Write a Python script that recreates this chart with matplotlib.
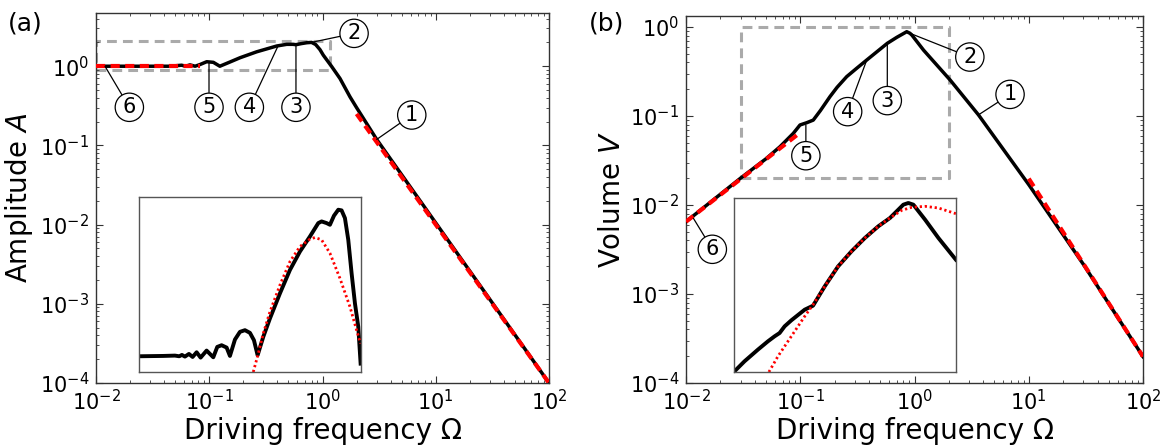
import matplotlib
matplotlib.use("Agg")
import matplotlib.pyplot as plt

plt.rcParams['font.family'] = ['DejaVu Sans']
plt.rcParams['mathtext.fontset'] = 'dejavusans'
plt.rcParams['axes.unicode_minus'] = False

# ---------------- panel (a): amplitude ----------------
omega_a = [0.01, 0.045, 0.057, 0.062, 0.0676, 0.075, 0.0828, 0.095, 0.1087, 0.124,
           0.15, 0.187, 0.262, 0.394, 0.483, 0.55, 0.583, 0.65, 0.726, 0.80, 0.87,
           0.95, 1.016, 1.2, 1.427, 1.75, 2.0, 3.01, 10.0, 100.0]
amp_a = [1.0, 1.0, 1.03, 1.0, 1.04, 1.0, 1.05, 1.14, 1.12, 1.0,
         1.12, 1.28, 1.52, 1.80, 1.89, 1.89, 1.87, 1.93, 1.98, 2.0, 1.88,
         1.62, 1.38, 1.0, 0.70, 0.41, 0.30, 0.119, 0.0105, 1.0e-4]
low_a_omega = [0.01, 0.083]
low_a_amp = [1.0, 1.0]
high_a_omega = [2.0, 100.0]
high_a_amp = [0.25, 1.0e-4]
box_a_omega = [0.01, 1.16]
box_a_amp = [0.9, 2.1]

# inset (a), normalised vertical scale
ins_a_omega = [0.02397, 0.03932, 0.04983, 0.05442, 0.05745, 0.06106, 0.06625, 0.07138,
               0.07745, 0.08397, 0.09488, 0.10867, 0.11785, 0.12872, 0.14252, 0.15249,
               0.16883, 0.18687, 0.20686, 0.22899, 0.24840, 0.26765, 0.30020, 0.34384,
               0.42142, 0.51644, 0.63283, 0.77546, 0.91884, 0.98320, 1.08847, 1.16474,
               1.26353, 1.37995, 1.47631, 1.57977, 1.69062, 1.80912, 1.93644, 2.07235, 2.17300]
ins_a_full = [0.0899, 0.0918, 0.0937, 0.0899, 0.0975, 0.0880, 0.1033, 0.0860,
              0.1128, 0.0822, 0.1224, 0.0841, 0.1434, 0.1530, 0.1396, 0.0918,
              0.1855, 0.2294, 0.2390, 0.2237, 0.1816, 0.0956, 0.2008, 0.3059,
              0.4493, 0.5832, 0.6883, 0.7744, 0.8509, 0.8604, 0.8509, 0.8413,
              0.8929, 0.9273, 0.9235, 0.8795, 0.7553, 0.5641, 0.3920, 0.2581, 0.0478]
ins_a_model_omega = [0.24503, 0.27131, 0.30020, 0.34384, 0.42142, 0.51644, 0.63283,
                     0.77546, 0.85857, 0.98320, 1.16474, 1.42707, 1.74955, 2.00316, 2.17300]
ins_a_model = [0.0, 0.1052, 0.2199, 0.3442, 0.4971, 0.6310, 0.7170,
               0.7591, 0.7686, 0.7553, 0.6788, 0.5354, 0.3728, 0.2390, 0.1625]

labels_a = ["1", "2", "3", "4", "5", "6"]
point_a = [(3.01, 0.119), (0.80, 2.0), (0.583, 1.87), (0.407, 1.83), (0.0995, 1.12), (0.012, 1.0)]
circle_a = [(6.14, 0.242), (1.90, 2.6), (0.583, 0.303), (0.226, 0.303), (0.0995, 0.303), (0.0197, 0.303)]

# ---------------- panel (b): volume ----------------
omega_b = [0.01, 0.03, 0.05, 0.0665, 0.0869, 0.0995, 0.114, 0.130, 0.15, 0.182, 0.21,
           0.255, 0.312, 0.382, 0.578, 0.70, 0.855, 0.913, 0.95, 1.2, 2.05, 3.63,
           10.05, 30.1, 100.0]
vol_b = [0.0065, 0.020, 0.033, 0.0452, 0.0638, 0.0793, 0.0841, 0.090, 0.115, 0.165, 0.21,
         0.277, 0.344, 0.426, 0.656, 0.766, 0.886, 0.85, 0.81, 0.55, 0.254, 0.103,
         0.0168, 0.00215, 1.98e-4]
low_b_omega = [0.01, 0.095]
low_b_vol = [0.0065, 0.062]
high_b_omega = [10.0, 100.0]
high_b_vol = [0.0198, 1.98e-4]
box_b_omega = [0.03, 2.0]
box_b_vol = [0.02, 1.0]

ins_b_omega = [0.02685, 0.03283, 0.04297, 0.05256, 0.06011, 0.06649, 0.07355, 0.08411,
               0.11005, 0.13016, 0.16461, 0.21544, 0.28186, 0.36872, 0.48256, 0.61035,
               0.72214, 0.79856, 0.88309, 0.97677, 1.23595, 1.61623, 2.29266]
ins_b_full = [0.0038, 0.0613, 0.1284, 0.1762, 0.2050, 0.2241, 0.2625, 0.2969,
              0.3582, 0.3812, 0.4923, 0.6073, 0.6935, 0.7701, 0.8372, 0.8851,
              0.9330, 0.9617, 0.9713, 0.9617, 0.8755, 0.7701, 0.6456]
ins_b_model_omega = [0.05363, 0.06430, 0.08411, 0.11005, 0.13016, 0.16461, 0.21544,
                     0.28186, 0.36872, 0.48256, 0.61035, 0.77216, 0.94453, 1.23595,
                     1.61623, 2.29266]
ins_b_model = [0.0, 0.0900, 0.2050, 0.3199, 0.3870, 0.4923, 0.6073,
               0.6935, 0.7701, 0.8372, 0.8851, 0.9291, 0.9464, 0.9521,
               0.9425, 0.9100]

labels_b = ["1", "2", "3", "4", "5", "6"]
point_b = [(3.63, 0.103), (0.913, 0.85), (0.578, 0.656), (0.382, 0.426), (0.112, 0.079), (0.0116, 0.0071)]
circle_b = [(6.86, 0.175), (3.05, 0.46), (0.578, 0.149), (0.26, 0.112), (0.112, 0.0358), (0.017, 0.00318)]

W, H = 1172, 446
fig = plt.figure(figsize=(W / 100, H / 100), dpi=100)


def frac(x0, y0, x1, y1):
    return [x0 / W, 1 - y1 / H, (x1 - x0) / W, (y1 - y0) / H]


spine_col = '#333333'
RED = '#ff0000'
GRAY = '#aaaaaa'


def style_main(ax):
    ax.set_xscale('log')
    ax.set_yscale('log')
    for s in ax.spines.values():
        s.set_color(spine_col)
        s.set_linewidth(1.0)
    ax.tick_params(which='both', direction='in', top=True, right=True, colors=spine_col,
                   labelcolor='black', labelsize=15)
    ax.tick_params(which='major', length=5, width=0.8, pad=5)
    ax.tick_params(which='minor', length=2.5, width=0.6)
    ax.tick_params(axis='x', which='major', pad=4)
    ax.set_xticks([1e-2, 1e-1, 1e0, 1e1, 1e2])
    ax.set_xlim(1e-2, 1e2)


def draw_box(ax, xs, ys):
    x0, x1 = xs
    y0, y1 = ys
    ax.plot([x0, x1, x1, x0, x0], [y0, y0, y1, y1, y0], color=GRAY, lw=2.2,
            dashes=(3.2, 2.0), zorder=1.5)


def annotate(ax, labels, pts, circs):
    for lab, p, c in zip(labels, pts, circs):
        ax.annotate(lab, xy=p, xytext=c, ha='center', va='center', fontsize=15, zorder=6,
                    bbox=dict(boxstyle='circle,pad=0.2', fc='white', ec='black', lw=0.9),
                    arrowprops=dict(arrowstyle='-', color='black', lw=0.9,
                                    shrinkA=0, shrinkB=0))


def style_inset(ax, xlim):
    ax.set_xscale('log')
    ax.set_xlim(*xlim)
    ax.set_ylim(0, 1)
    ax.set_xticks([])
    ax.set_yticks([])
    ax.minorticks_off()
    for s in ax.spines.values():
        s.set_color('#555555')
        s.set_linewidth(1.0)


# panel (a)
axa = fig.add_axes(frac(96, 13, 549, 383))
style_main(axa)
axa.set_ylim(1e-4, 4.7)
axa.set_yticks([1e-4, 1e-3, 1e-2, 1e-1, 1e0])
draw_box(axa, box_a_omega, box_a_amp)
axa.plot(omega_a, amp_a, color='black', lw=2.5, zorder=3)
axa.plot(low_a_omega, low_a_amp, color=RED, lw=3.0, dashes=(2.2, 1.3), zorder=4)
axa.plot(high_a_omega, high_a_amp, color=RED, lw=3.0, dashes=(2.2, 1.3), zorder=4)
annotate(axa, labels_a, point_a, circle_a)
axa.set_xlabel('Driving frequency Ω', fontsize=20)
axa.set_ylabel('Amplitude $A$', fontsize=20)
axa.xaxis.set_label_coords(0.5, -0.093)
axa.yaxis.set_label_coords(-0.135, 0.5)
fig.text(25 / W, 1 - 24 / H, '(a)', fontsize=18, ha='center', va='center')

ina = fig.add_axes(frac(139, 197, 361, 372))
style_inset(ina, (0.024, 2.19))
ina.plot(ins_a_omega, ins_a_full, color='black', lw=2.8, solid_joinstyle='round')
ina.plot(ins_a_model_omega, ins_a_model, color=RED, lw=2.0, linestyle=(0, (0.8, 1.0)))

# panel (b)
axb = fig.add_axes(frac(686, 16, 1143, 383))
style_main(axb)
axb.set_ylim(1e-4, 1.33)
axb.set_yticks([1e-4, 1e-3, 1e-2, 1e-1, 1e0])
draw_box(axb, box_b_omega, box_b_vol)
axb.plot(omega_b, vol_b, color='black', lw=2.5, zorder=3)
axb.plot(low_b_omega, low_b_vol, color=RED, lw=3.0, dashes=(2.2, 1.3), zorder=4)
axb.plot(high_b_omega, high_b_vol, color=RED, lw=3.0, dashes=(2.2, 1.3), zorder=4)
annotate(axb, labels_b, point_b, circle_b)
axb.set_xlabel('Driving frequency Ω', fontsize=20)
axb.set_ylabel('Volume $V$', fontsize=20)
axb.xaxis.set_label_coords(0.5, -0.093)
axb.yaxis.set_label_coords(-0.131, 0.5)
fig.text(607 / W, 1 - 23 / H, '(b)', fontsize=18, ha='center', va='center')

inb = fig.add_axes(frac(734, 198, 956, 372))
style_inset(inb, (0.0266, 2.30))
inb.plot(ins_b_omega, ins_b_full, color='black', lw=2.8, solid_joinstyle='round')
inb.plot(ins_b_model_omega, ins_b_model, color=RED, lw=2.0, linestyle=(0, (0.8, 1.0)))

fig.savefig('out.png', dpi=100)
